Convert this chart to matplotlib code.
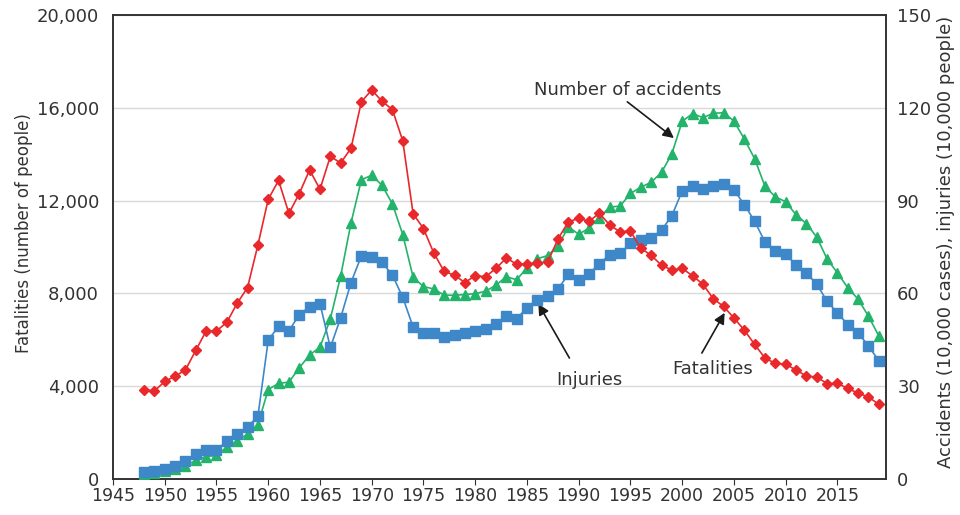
import numpy as np
import matplotlib.pyplot as plt

years = np.arange(1948, 2020)

# left axis: fatalities (people)
fatalities = [3848, 3790, 4202, 4429, 4696, 5544, 6374, 6379, 6751, 7575,
              8248, 10079, 12055, 12865, 11445, 12301, 13318, 12484, 13904, 13618,
              14256, 16257, 16765, 16278, 15918, 14574, 11432, 10792, 9734, 8945,
              8783, 8466, 8760, 8719, 9073, 9520, 9262, 9261, 9317, 9347,
              10344, 11086, 11227, 11109, 11452, 10942, 10649, 10684, 9942, 9640,
              9211, 9006, 9073, 8757, 8396, 7768, 7436, 6937, 6415, 5796,
              5209, 4979, 4948, 4691, 4438, 4388, 4113, 4117, 3904, 3694,
              3532, 3215]

# right axis (10,000): green triangles, labelled "Number of accidents"
accidents = [1.76, 2.07, 2.55, 3.15, 4.33, 5.98, 7.25, 7.60, 10.3, 12.4,
             14.5, 17.6, 28.9, 30.9, 31.3, 35.9, 40.1, 42.6, 51.7, 65.6,
             82.8, 96.7, 98.2, 94.9, 88.9, 79.0, 65.2, 62.2, 61.4, 59.4,
             59.4, 59.6, 59.9, 60.7, 62.6, 65.4, 64.4, 68.2, 71.2, 72.2,
             75.3, 81.5, 79.1, 81.1, 84.5, 87.9, 88.2, 92.3, 94.3, 95.9,
             99.1, 105.1, 115.6, 118.1, 116.8, 118.2, 118.4, 115.7, 109.9, 103.5,
             94.6, 91.2, 89.6, 85.4, 82.5, 78.2, 71.1, 66.6, 61.8, 58.1,
             52.6, 46.2]

# right axis (10,000): blue squares, labelled "Injuries"
injuries = [2.13, 2.56, 3.33, 4.15, 5.82, 8.03, 9.30, 9.34, 12.2, 14.6,
            16.9, 20.2, 44.9, 49.3, 47.9, 53.1, 55.7, 56.7, 42.5, 52.1,
            63.5, 72.1, 71.8, 70.0, 65.9, 58.7, 49.1, 47.2, 47.1, 46.0,
            46.4, 47.1, 47.7, 48.5, 50.2, 52.7, 51.8, 55.3, 58.0, 59.1,
            61.5, 66.1, 64.3, 66.3, 69.6, 72.5, 72.9, 76.2, 77.2, 78.0,
            80.4, 85.1, 93.1, 94.7, 93.7, 94.8, 95.3, 93.4, 88.7, 83.3,
            76.6, 73.7, 72.6, 69.2, 66.5, 63.0, 57.4, 53.7, 49.9, 47.2,
            43.0, 38.2]

txt = '#333333'
red, green, blue = '#e8282b', '#24b36b', '#3e88c9'

fig, ax = plt.subplots(figsize=(9.6, 5.15), dpi=100)
fig.subplots_adjust(left=0.1177, right=0.923, bottom=0.07, top=0.971)
ax2 = ax.twinx()

ax.set_xlim(1945, 2019.7)
ax.set_ylim(0, 20000)
ax2.set_ylim(0, 150)
ax.set_xticks(range(1945, 2020, 5))
ax.set_yticks(range(0, 20001, 4000))
ax.set_yticklabels([f'{v:,}' for v in range(0, 20001, 4000)])
ax2.set_yticks(range(0, 151, 30))
ax.grid(axis='y', color='#d9d9d9', lw=1)
ax.set_axisbelow(True)

for a in (ax, ax2):
    a.tick_params(axis='y', length=0, labelsize=13, colors=txt, pad=10)
    for s in a.spines.values():
        s.set_color('#333333')
        s.set_linewidth(1.2)
ax2.tick_params(axis='y', pad=8)
ax.tick_params(axis='x', direction='out', length=4, labelsize=12.5, colors=txt, pad=2)

ax2.plot(years, accidents, '-^', color=green, lw=1.2, ms=7, zorder=3)
ax2.plot(years, injuries, '-s', color=blue, lw=1.2, ms=7, zorder=4)
ax2.plot(years, np.array(fatalities) * 150 / 20000, '-D', color=red, lw=1.2, ms=5, zorder=5)

ax.set_ylabel('Fatalities (number of people)', fontsize=12, color=txt)
ax.yaxis.set_label_coords(-0.1035, 0.53)
ax2.set_ylabel('Accidents (10,000 cases), injuries (10,000 people)', fontsize=13, color=txt)
ax2.yaxis.set_label_coords(1.066, 0.51)

arrow = dict(arrowstyle='-|>', color='#1a1a1a', lw=1.2, mutation_scale=16,
             shrinkA=0, shrinkB=0)
ax2.text(1994.7, 125.8, 'Number of accidents', fontsize=13, color=txt, ha='center', va='center')
ax2.annotate('', xy=(1999.2, 110.2), xytext=(1994.7, 121.9), arrowprops=arrow)
ax2.text(1991.0, 32.0, 'Injuries', fontsize=13, color=txt, ha='center', va='center')
ax2.annotate('', xy=(1986.1, 56.6), xytext=(1989.1, 39.1), arrowprops=arrow)
ax2.text(2002.9, 35.6, 'Fatalities', fontsize=13, color=txt, ha='center', va='center')
ax2.annotate('', xy=(2004.1, 53.7), xytext=(2001.9, 40.7), arrowprops=arrow)

fig.savefig('out.png', dpi=100)
